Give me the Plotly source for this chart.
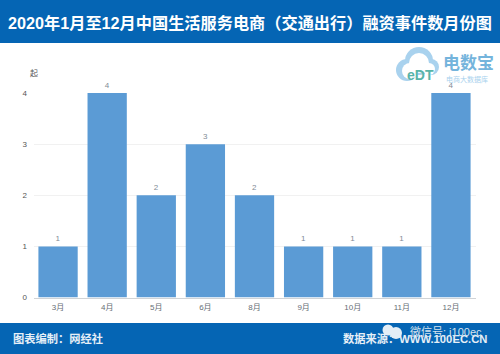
import plotly.graph_objects as go

months = ["3月", "4月", "5月", "6月", "8月", "9月", "10月", "11月", "12月"]
counts = [1, 4, 2, 3, 2, 1, 1, 1, 4]
y_ticks = [0, 1, 2, 3, 4]
title = "2020年1月至12月中国生活服务电商（交通出行）融资事件数月份图"
unit = "起"
footer_left = "图表编制：网经社"
footer_right = "数据来源：WWW.100EC.CN"
watermark = "微信号: i100ec"
logo_name = "电数宝"
logo_sub = "电商大数据库"
logo_mark = "eDT"

W, H = 500, 354
FONT = "Liberation Sans, Noto Sans CJK SC"
BLUE = "#0565b4"

def px(x): return x / W
def py(y): return 1 - y / H

fig = go.Figure(go.Bar(
    x=months, y=counts, text=counts, textposition="outside",
    textfont=dict(size=8, color="#7f8c96", family=FONT),
    marker=dict(color="#5b9bd5", line=dict(width=0)),
    width=0.8, cliponaxis=False,
))

shapes = [
    dict(type="rect", xref="paper", yref="paper", x0=0, x1=1, y0=py(43), y1=1,
         fillcolor=BLUE, line_width=0, layer="below"),
    dict(type="rect", xref="paper", yref="paper", x0=0, x1=1, y0=0, y1=py(323),
         fillcolor=BLUE, line_width=0, layer="below"),
]
for cx, cy, r in [(407, 70, 11), (419, 61, 14), (431, 67, 8)]:
    shapes.append(dict(type="circle", xref="paper", yref="paper",
                       x0=px(cx - r), x1=px(cx + r), y0=py(cy + r), y1=py(cy - r),
                       fillcolor="#a9d2ee", line_width=0, layer="below"))
for cx, cy, r in [(410, 71, 8), (419, 63, 10), (429, 69, 6)]:
    shapes.append(dict(type="circle", xref="paper", yref="paper",
                       x0=px(cx - r), x1=px(cx + r), y0=py(cy + r), y1=py(cy - r),
                       fillcolor="white", line_width=0, layer="below"))
for cx, cy, r in [(388, 330, 5.5), (396, 333, 6)]:
    shapes.append(dict(type="circle", xref="paper", yref="paper",
                       x0=px(cx - r), x1=px(cx + r), y0=py(cy + r), y1=py(cy - r),
                       fillcolor="#e4eef6", line_width=0, layer="above"))

def note(text, x, y, size, color, anchor="left", weight="normal"):
    return dict(text=text, x=px(x), y=py(y), xref="paper", yref="paper", showarrow=False,
                xanchor=anchor, yanchor="middle",
                font=dict(size=size, color=color, family=FONT, weight=weight))

annotations = [
    note(title, 250, 22.5, 16.2, "white", "center", "bold"),
    note(unit, 34, 73.5, 8, "#555555", "center"),
    note(footer_left, 11, 338.5, 11.25, "#e6eff7", "left", "bold"),
    note(footer_right, 489, 338.5, 11.25, "#e6eff7", "right", "bold"),
    note(watermark, 484, 331, 11, "#d5e3ef", "right"),
    note(logo_mark, 420, 75, 14, "#58b4a8", "center", "bold"),
    note(logo_name, 468.5, 63, 17, "#74b4dc", "center", "bold"),
    note(logo_sub, 467, 79, 7, "#a9d2ee", "center"),
]

fig.update_layout(
    width=W, height=H, autosize=False, showlegend=False,
    paper_bgcolor="white", plot_bgcolor="white",
    margin=dict(l=0, r=0, t=0, b=0, pad=0, autoexpand=False),
    bargap=0.2, shapes=shapes, annotations=annotations,
    xaxis=dict(domain=[px(33.5), px(475.5)], type="category", categoryorder="array",
               categoryarray=months, range=[-0.5, 8.5], showgrid=False,
               ticks="outside", ticklen=2, tickcolor="white", automargin=False,
               showline=True, linecolor="#d0d3d6", linewidth=1,
               tickfont=dict(size=8, color="#666e75", family=FONT)),
    yaxis=dict(domain=[py(297.5), py(93)], range=[0, 4], tickvals=y_ticks,
               automargin=False,
               showgrid=True, gridcolor="#f1f1f1", gridwidth=1, zeroline=False,
               showline=False, ticks="outside", ticklen=4, tickcolor="white",
               tickfont=dict(size=8, color="#555555", family=FONT)),
)
fig.write_html("out.html", config=dict(displayModeBar=False),
               post_script="document.documentElement.style.margin='0';document.body.style.margin='0';document.body.style.overflow='hidden';")
